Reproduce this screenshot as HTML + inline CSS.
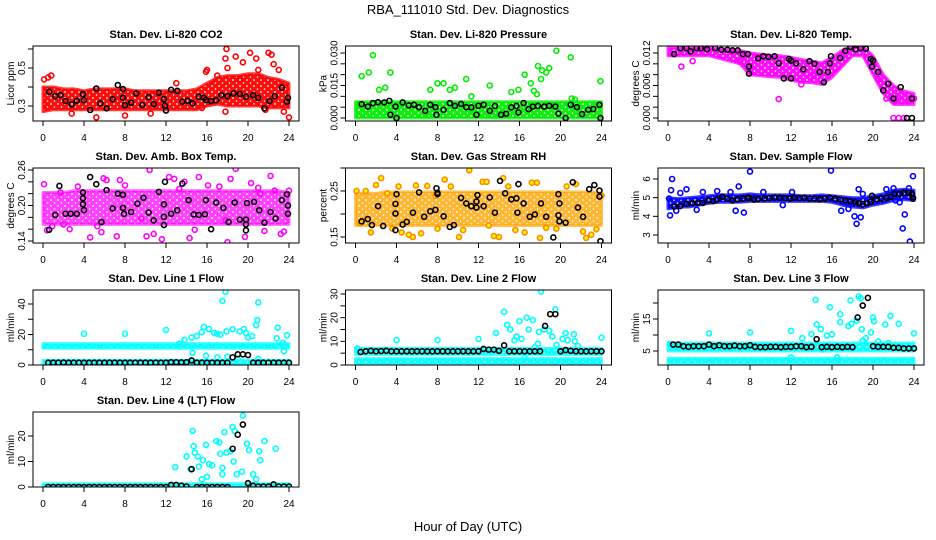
<!DOCTYPE html>
<html><head><meta charset="utf-8">
<style>
html,body{margin:0;padding:0;background:#fff;}
svg{display:block;font-family:"Liberation Sans",sans-serif;}
</style></head>
<body>
<svg id="chart" width="936" height="540" viewBox="0 0 936 540">
<text x="468" y="14" text-anchor="middle" font-size="13">RBA_111010  Std. Dev. Diagnostics</text>
<text x="468" y="531" text-anchor="middle" font-size="13">Hour of Day (UTC)</text>
</svg>
<script>
// ---------- shared x data ----------
const bandHours = [0,1,2,3,4,5,6,7,8,9,10,11,12,13,14,15,16,17,18,19,20,21,22,23,24];
const xTicks = [0,4,8,12,16,20,24];
const flowBlackX = [0.5,1,1.5,2,2.5,3,3.5,4,4.5,5,5.5,6,6.5,7,7.5,8,8.5,9,9.5,10,10.5,11,11.5,12,12.5,13,13.5,14,14.5,15,15.5,16,16.5,17,17.5,18,18.5,19,19.5,20,20.5,21,21.5,22,22.5,23,23.5,24];

// ---------- CO2 ----------
const co2BandLo = [0.27,0.28,0.28,0.28,0.28,0.28,0.28,0.28,0.28,0.28,0.28,0.28,0.28,0.28,0.28,0.28,0.30,0.31,0.30,0.30,0.30,0.30,0.29,0.29,0.29];
const co2BandHi = [0.40,0.40,0.39,0.39,0.38,0.39,0.39,0.39,0.39,0.38,0.38,0.38,0.38,0.38,0.38,0.39,0.42,0.45,0.46,0.46,0.47,0.47,0.45,0.44,0.42];
const co2OutX = [0.1,0.5,0.8,2.8,5.2,8,10.5,13,15.5,15.9,16,17,17.9,17.8,18.8,19.5,20.2,20.8,22,22.3,22.5,23,24,17.8,21.7,19.2,18,21,23.5];
const co2OutY = [0.44,0.45,0.46,0.26,0.24,0.25,0.26,0.42,0.29,0.48,0.49,0.46,0.60,0.55,0.56,0.53,0.58,0.55,0.58,0.57,0.52,0.49,0.24,0.27,0.28,0.44,0.50,0.49,0.27];
const co2BlkX = [0.6,1.2,1.7,2.2,2.8,3.3,3.9,4,4.6,5.2,5.6,6.2,6.8,7.3,7.8,7.8,8,8.6,9.1,9.7,10.3,10.8,11.3,11.8,11.9,12,12.5,13.1,13.6,14.1,14.6,15.2,15.7,15.9,16.4,16.9,17.4,18,18.6,19.2,19.8,20.5,21,21.6,22.1,22.6,23.3,23.8,23.9];
const co2BlkY = [0.375,0.352,0.357,0.326,0.309,0.328,0.363,0.331,0.279,0.392,0.314,0.288,0.335,0.41,0.343,0.389,0.305,0.317,0.366,0.305,0.347,0.31,0.37,0.335,0.302,0.276,0.385,0.38,0.323,0.328,0.314,0.349,0.343,0.331,0.326,0.331,0.357,0.352,0.366,0.363,0.349,0.357,0.343,0.288,0.326,0.352,0.397,0.323,0.343];

// ---------- Pressure ----------
const prsBandLo = [0,0,0,0,0,0,0,0,0,0,0,0,0,0,0,0,0,0,0,0,0,0,0,0,0];
const prsBandHi = [0.0075,0.0075,0.0075,0.0075,0.0075,0.0075,0.0075,0.0075,0.0075,0.0075,0.0075,0.0075,0.0075,0.0075,0.0075,0.0075,0.0075,0.0075,0.0075,0.0075,0.0075,0.0075,0.0075,0.0075,0.0075];
const prsOutX = [0.6,1.3,1.7,2.3,2.9,3.4,7.3,8,8.6,9.2,9.7,10.8,11.3,13.1,15.2,15.9,16.5,17.1,17.4,17.7,17.8,18.1,18.2,18.6,18.9,19.6,21,21.1,21.4,23.9];
const prsOutY = [0.0193,0.021,0.029,0.013,0.014,0.021,0.013,0.016,0.016,0.013,0.014,0.018,0.010,0.015,0.012,0.013,0.020,0.016,0.0125,0.011,0.024,0.018,0.022,0.021,0.023,0.031,0.028,0.009,0.0085,0.017];
const prsBlkX = [0.6,1.2,1.7,2.2,2.8,3.3,3.4,3.9,4,4.6,5.2,5.7,6.2,6.8,7.3,7.8,7.9,8.6,9.2,9.7,10.3,10.8,11.3,11.8,12,12.5,13.1,13.6,14.2,14.7,15.2,15.7,15.9,16.4,16.9,17.3,17.8,18.4,18.9,19.5,19.8,20.5,21,21.6,22.1,22.7,23.2,23.8,23.9];
const prsBlkY = [0.0064,0.0053,0.0069,0.0073,0.0072,0.0079,0.0015,0.0053,0,0.0072,0.0058,0.0061,0.005,0.0033,0.0061,0.005,0.0015,0.0038,0.0069,0.0056,0.0065,0.005,0.0049,0.0015,0.0056,0.0061,0.0033,0.0056,0.0015,0.002,0.0049,0.0056,0.0026,0.0069,0.0041,0.0053,0.0056,0.0053,0.0056,0.0053,0.002,0,0.0061,0.005,0.0018,0.0038,0.0041,0.0061,0];

// ---------- Li-820 Temp ----------
const tmpBandLo = [0.0115,0.0115,0.0115,0.0115,0.0115,0.0110,0.0105,0.0100,0.0080,0.0078,0.0076,0.0075,0.0070,0.0066,0.0065,0.0062,0.0075,0.0095,0.0115,0.0115,0.0080,0.0045,0.0025,0.0025,0.0025];
const tmpBandHi = [0.0130,0.0130,0.0130,0.0130,0.0130,0.0128,0.0126,0.0125,0.0120,0.0118,0.0116,0.0115,0.0112,0.0108,0.0105,0.0102,0.0112,0.0125,0.0132,0.0132,0.0115,0.0080,0.0060,0.0050,0.0045];
const tmpOutX = [1.3,10.8,22,22.5,23,23.5,24,21.3,22.2,0.5,2.4,7,13,14.2,20.5];
const tmpOutY = [0.0095,0.0035,0,0,0,0.0036,0.0036,0.0036,0.0036,0.0118,0.0105,0.0105,0.0062,0.0078,0.0072];
const tmpBlkX = [0.6,1.2,1.8,2.2,2.8,3.2,3.8,4.6,5.2,5.8,6.3,6.8,7.3,7.8,7.9,7.9,8.8,9.3,9.8,10.4,10.8,11.3,11.8,12,12,12.5,13.2,13.8,14.3,14.8,15.2,15.6,15.8,15.9,16.8,17.3,17.8,18.3,18.8,19.3,19.8,19.9,20,20.5,21,21.5,22,22.7,23.3,23.8,23.8];
const tmpBlkY = [0.0118,0.0129,0.0129,0.0123,0.0129,0.0129,0.0127,0.0129,0.0126,0.0126,0.0125,0.0125,0.0118,0.0118,0.0095,0.0082,0.0110,0.0114,0.0113,0.0114,0.0101,0.0073,0.0109,0.0106,0.0073,0.0101,0.0090,0.0105,0.0100,0.0085,0.0066,0.0085,0.0101,0.0114,0.0111,0.0124,0.0131,0.0127,0.0129,0.0128,0.0109,0.0095,0.0106,0.0085,0.0051,0.0063,0.0036,0.0057,0,0.0036,0];

// ---------- Amb Box Temp ----------
const ambBandLo = [0.168,0.168,0.168,0.168,0.168,0.168,0.168,0.168,0.168,0.168,0.168,0.168,0.168,0.168,0.168,0.168,0.168,0.168,0.168,0.168,0.168,0.168,0.168,0.168,0.168];
const ambBandHi = [0.222,0.222,0.222,0.225,0.225,0.225,0.225,0.225,0.225,0.225,0.225,0.225,0.225,0.225,0.225,0.225,0.225,0.225,0.225,0.225,0.225,0.225,0.225,0.225,0.222];
const ambOutX = [0.1,0.4,1.7,2.6,3.4,4.6,5.3,5.7,5.9,6.2,7.2,7.5,8,10.1,10.4,10.8,11.6,12.3,12.8,13.3,14.3,14.8,15.2,16.1,17.2,18,18.3,18.8,19.7,20.3,21.2,21.6,22.2,22.6,23.2,23.5,24,0.9,2,9.6,13.8,17.8,21];
const ambOutY = [0.236,0.158,0.222,0.16,0.232,0.146,0.165,0.155,0.246,0.243,0.148,0.243,0.234,0.148,0.26,0.152,0.143,0.248,0.245,0.228,0.145,0.159,0.248,0.234,0.232,0.138,0.245,0.262,0.147,0.238,0.22,0.157,0.25,0.225,0.152,0.156,0.225,0.165,0.168,0.178,0.24,0.175,0.23];
const ambBlkX = [0.6,1.2,1.6,2.2,2.7,3.3,3.9,3.9,3.9,4,4.6,5.2,5.7,6.2,6.8,7.3,7.8,7.8,7.9,8.6,9.2,9.8,10.3,10.8,11.3,11.8,11.8,11.8,11.9,12.5,13.1,13.6,14.2,14.7,15.2,15.8,15.9,16.4,16.9,17.6,18.1,18.7,19.2,19.8,19.8,19.8,19.9,20.6,21.1,21.6,22.2,22.7,23.3,23.8,23.9,23.9];
const ambBlkY = [0.159,0.184,0.233,0.186,0.186,0.186,0.222,0.212,0.202,0.192,0.248,0.236,0.172,0.226,0.195,0.22,0.218,0.196,0.186,0.189,0.203,0.213,0.188,0.175,0.223,0.202,0.181,0.167,0.24,0.186,0.192,0.237,0.209,0.185,0.184,0.185,0.209,0.16,0.205,0.196,0.172,0.205,0.176,0.176,0.168,0.158,0.204,0.206,0.192,0.171,0.189,0.178,0.209,0.219,0.2,0.186];

// ---------- Gas Stream RH ----------
const rhBandLo = [0.175,0.175,0.175,0.175,0.175,0.175,0.175,0.175,0.175,0.175,0.175,0.175,0.175,0.175,0.175,0.175,0.175,0.175,0.175,0.175,0.175,0.175,0.175,0.175,0.175];
const rhBandHi = [0.245,0.245,0.245,0.248,0.248,0.248,0.248,0.248,0.248,0.248,0.248,0.248,0.248,0.248,0.248,0.248,0.248,0.248,0.248,0.248,0.248,0.248,0.248,0.248,0.245];
const rhOutX = [0.1,0.5,1,1.5,2,2.5,3.1,3.6,4.2,4.5,5.2,5.6,5.9,6.4,7,7.8,8,8.7,9.3,10.1,10.5,11.1,12.4,12.8,13.5,14,14.4,14.9,15.6,16.5,17.2,18,18.6,19.6,20.6,21.5,22.2,22.5,23,23.5,24,17.7,13];
const rhOutY = [0.25,0.18,0.25,0.16,0.263,0.278,0.245,0.168,0.26,0.16,0.155,0.15,0.262,0.158,0.261,0.24,0.168,0.275,0.26,0.15,0.165,0.295,0.27,0.27,0.152,0.15,0.278,0.26,0.165,0.16,0.268,0.148,0.17,0.168,0.26,0.265,0.162,0.148,0.155,0.167,0.24,0.268,0.175];
const rhBlkX = [0.6,1.2,1.6,2.2,2.7,3.9,3.9,3.9,4,4.6,5,5.6,6.2,6.7,7.3,7.8,7.9,8,8,8.6,9.2,9.6,10.3,10.8,11.3,11.8,11.8,11.9,12.5,13.1,13.6,14.1,14.6,15.2,15.7,15.8,15.9,16.4,17,17.5,18.1,18.6,19.3,19.8,19.8,19.9,19.9,20.5,21.2,21.7,22.2,22.8,23.3,23.8,23.8,23.9];
const rhBlkY = [0.184,0.189,0.176,0.217,0.174,0.165,0.201,0.222,0.243,0.177,0.183,0.203,0.247,0.194,0.206,0.209,0.256,0.246,0.243,0.195,0.172,0.176,0.235,0.223,0.217,0.227,0.214,0.241,0.217,0.236,0.203,0.272,0.245,0.232,0.234,0.203,0.265,0.223,0.194,0.199,0.223,0.194,0.149,0.243,0.197,0.223,0.184,0.181,0.269,0.214,0.194,0.254,0.263,0.251,0.238,0.141];

// ---------- Sample Flow ----------
const sfBandLo = [4.4,4.5,4.5,4.6,4.7,4.75,4.75,4.75,4.8,4.8,4.8,4.8,4.8,4.8,4.8,4.8,4.75,4.6,4.5,4.45,4.6,4.7,4.85,4.9,4.85];
const sfBandHi = [5.0,4.95,5.0,5.05,5.1,5.15,5.15,5.15,5.2,5.15,5.15,5.15,5.15,5.1,5.1,5.15,5.1,5.05,5.0,5.0,5.1,5.2,5.4,5.45,5.4];
const sfOutX = [0.1,0.2,0.3,0.4,0.8,1.2,1.8,2.8,3.4,4.8,6.1,6.6,6.9,7.4,8,9.3,11.2,12.1,15.9,16.9,17.6,18.2,18.4,18.6,18.8,19,22,22.2,22.6,22.9,23.1,23.5,23.6,23.9,21.3];
const sfOutY = [4.95,4.05,5.4,6.0,4.3,5.25,5.45,4.35,5.3,5.35,5.3,4.3,5.6,4.2,6.4,5.3,4.6,5.3,6.45,4.3,4.4,4.0,3.6,5.45,3.95,5.2,5.5,4.85,4.75,3.35,4.1,5.5,2.65,6.15,5.45];
const sfBlkX = [0.6,1.2,1.8,2.4,2.9,3.4,3.9,4.4,4.8,5.3,5.8,6.3,6.8,7.3,7.8,7.9,8.4,8.8,9.4,9.9,10.4,10.9,11.4,11.9,12.3,12.8,13.3,13.8,14.3,14.8,15.3,15.8,16.3,16.8,17.3,17.8,18.3,18.6,19,19.4,19.8,19.9,20.3,20.8,21.3,21.7,22.1,22.6,23,23.5,23.8,23.9,23.9];
const sfBlkY = [4.52,4.55,4.67,4.7,4.72,4.72,4.85,4.82,4.9,5.05,4.95,4.85,4.92,4.95,5.0,4.98,4.9,4.93,4.95,4.97,5.0,5.0,4.98,4.95,5.0,4.98,5.0,4.95,4.95,4.92,4.95,5.0,4.95,4.9,4.85,4.8,4.75,4.7,4.65,4.7,4.78,5.1,4.9,4.95,5.0,5.05,5.2,5.2,5.25,5.25,5.2,5.0,4.95];

// ---------- Line 1 Flow ----------
const l1BandALo = [11,11,11,11,11,11,11,11,11,11,11,11,11,11,11,11,11,11,11,11,11,11,11,11,11];
const l1BandAHi = [14,14,14,14,14,14,14,14,14,14,14,14,14,14,14,14,14,14,14,14,14,14,14,14,14];
const l1BandBLo = [0.5,0.5,0.5,0.5,0.5,0.5,0.5,0.5,0.5,0.5,0.5,0.5,0.5,0.5,0.5,0.5,0.5,0.5,0.5,0.5,0.5,0.5,0.5,0.5,0.5];
const l1BandBHi = [3,3,3,3,3,3,3,3,3,3,3,3,3,3,3,3,3,3,3,3,3,3,3,3,3];
const l1OutX = [4,8,12,13.3,13.8,14.5,14.6,15,15.5,15.7,16.2,16.7,17,17.3,17.5,17.8,17.9,18.5,19.2,19.6,19.8,20,20.4,20.8,20.9,21,22.8,22.9,23.4,23.5,23.8,15.9,17,18,19,21];
const l1OutY = [20.5,20.5,23,14,16.5,18,8,19,21.5,25,23.5,21,20.5,20,42,48,22,23.5,22,23.5,21,18,19,26,29.5,41,17.5,24.5,14.5,9,19.5,6,5,5.5,4,4];
const l1BlkY = [1.5,1.5,1.5,1.6,1.5,1.5,1.5,1.5,1.5,1.5,1.5,1.5,1.5,1.5,1.5,1.5,1.5,1.5,1.5,1.5,1.5,1.5,1.5,1.5,1.8,1.8,1.7,1.8,3.0,1.5,1.5,1.5,1.5,1.5,1.5,1.5,5.0,7.0,7.0,6.5,1.5,1.5,1.5,1.5,1.5,1.5,1.5,1.5];

// ---------- Line 2 Flow ----------
const l2BandALo = [4.5,4.5,4.5,4.5,4.5,4.5,4.5,4.5,4.5,4.5,4.5,4.5,4.5,4.5,4.5,4.5,4.5,4.5,4.5,4.5,4.5,4.5,4.5,4.5,4.5];
const l2BandAHi = [7,7,7,7,7,7,7,7,7,7,7,7,7,7,7,7,7,7,7,7,7,7,7,7,7];
const l2BandBLo = [0.5,0.5,0.5,0.5,0.5,0.5,0.5,0.5,0.5,0.5,0.5,0.5,0.5,0.5,0.5,0.5,0.5,0.5,0.5,0.5,0.5,0.5,0.5,0.5,0.5];
const l2BandBHi = [2.7,2.7,2.7,2.7,2.7,2.7,2.7,2.7,2.7,2.7,2.7,2.7,2.7,2.7,2.7,2.7,2.7,2.7,2.7,2.7,2.7,2.7,2.7,2.7,2.7];
const l2OutX = [0.2,4,8,12,13.7,14.5,14.8,15.1,15.5,15.7,16,16.2,16.7,16.9,17.3,17.5,17.9,18.1,18.4,18.9,19.2,19.5,19.6,20.2,20.5,20.7,21.3,21.4,21.7,24,17.8,16.5];
const l2OutY = [7,10.5,10.5,11,13.5,22.5,17,15,10.5,12,18.5,11,20,15,19,7.5,14,31,15,14.5,12,23.5,8.5,11,13.5,10.5,13,10,8,11.5,9,3];
const l2BlkY = [5.5,5.8,6.0,5.8,5.9,6.0,5.8,5.8,5.8,5.8,5.8,5.8,5.8,5.8,5.8,5.8,5.8,5.8,5.8,5.8,5.8,5.8,5.8,5.8,6.8,6.5,6.5,6.0,8.3,5.8,5.8,5.8,5.8,5.8,5.8,5.8,16.5,21.5,21.5,5.8,6.3,6.0,5.8,5.8,5.8,5.8,5.8,5.8];

// ---------- Line 3 Flow ----------
const l3BandALo = [5,5,5,5,5,5,5,5,5,5,5,5,5,5,5,5,5,5,5,5,5,5,5,5,5];
const l3BandAHi = [7.5,7.5,7.5,7.5,7.5,7.5,7.5,7.5,7.5,7.5,7.5,7.5,7.5,7.5,7.5,7.5,7.5,7.5,7.5,7.5,7.5,7.5,7.5,7.5,7.5];
const l3BandBLo = [1.2,1.2,1.2,1.2,1.2,1.2,1.2,1.2,1.2,1.2,1.2,1.2,1.2,1.2,1.2,1.2,1.2,1.2,1.2,1.2,1.2,1.2,1.2,1.2,1.2];
const l3BandBHi = [2.7,2.7,2.7,2.7,2.7,2.7,2.7,2.7,2.7,2.7,2.7,2.7,2.7,2.7,2.7,2.7,2.7,2.7,2.7,2.7,2.7,2.7,2.7,2.7,2.7];
const l3OutX = [0.2,4,8,12,13.1,14,14.4,14.5,14.9,15.5,15.8,16,16.8,16.8,17.6,17.8,17.9,18.4,18.6,18.8,18.9,19,19.3,19.8,20,20.1,20.5,21.2,21.5,21.7,22.5,24,15.1,16.5,12];
const l3OutY = [7.2,10.5,10.8,11.3,9,10.3,21,13.3,11.8,9.8,18.7,10.2,16.5,14,12.8,20.8,13.5,14.5,22,21.5,11.8,8.2,9,10.8,15.5,14.3,8,13.3,7.5,16,13.5,10.5,5.5,3,3];
const l3BlkY = [7.0,7.0,6.5,6.3,6.5,6.5,6.5,7.0,6.5,6.8,6.5,6.5,6.7,6.5,6.5,6.8,6.3,6.2,6.2,6.3,6.3,6.2,6.3,6.3,6.5,6.5,6.2,6.3,8.7,6.2,6.3,6.2,6.3,6.2,6.3,6.2,15.5,19.2,21.6,6.5,6.3,6.3,6.3,6.0,6.0,5.8,5.8,5.8];

// ---------- Line 4 (LT) Flow ----------
const l4BandLo = [0,0,0,0,0,0,0,0,0,0,0,0,0,0,0,0,0,0,0,0,0,0,0,0,0];
const l4BandHi = [1.3,1.3,1.3,1.3,1.3,1.3,1.3,1.3,1.3,1.3,1.3,1.3,1.3,1.3,1.3,1.3,1.3,1.3,1.3,1.3,1.3,1.3,1.3,1.3,1.3];
const l4OutX = [12.9,14,14.4,14.6,14.7,14.8,15.1,15.2,15.6,15.9,16.2,16.5,16.9,17.2,17.3,17.5,17.7,17.9,18.3,18.5,18.6,18.7,18.9,19.4,19.5,19.9,20.1,20.5,20.8,21.1,21.2,21.6,22.7,15.5,16,17.5];
const l4OutY = [7.8,12,7,22,16,13.5,12,8,10.5,16.5,9,8.5,18,17.5,13,7.5,21.5,13.5,14,23.5,10,22,5,6,28,17,14.5,5,3,14,10.5,18,15,3,4,5];
const l4BlkY = [0,0,0,0,0,0,0,0,0,0,0,0,0,0,0,0,0,0,0,0,0,0,0,0,0.8,0.8,0.5,0.2,7.0,0,0,0,0,0,0,0,15,20.5,24.5,1.5,0.5,0.2,0.2,0.2,1.0,0.2,0.2,0.2];

// ---------- panel config (axis calibration, no data) ----------
const panels = [
 {id:'co2',title:'Stan. Dev. Li-820 CO2',ylab:'Licor ppm',col:0,row:0,cal:[0.3,106,0.5,68],ticks:[0.3,0.4,0.5,0.6],labels:['0.3','','0.5',''],color:'#ff0000',op:0.95,bands:[[co2BandLo,co2BandHi]],ox:co2OutX,oy:co2OutY,bx:co2BlkX,by:co2BlkY},
 {id:'pressure',title:'Stan. Dev. Li-820 Pressure',ylab:'kPa',col:1,row:0,cal:[0,118,0.03,53],ticks:[0,0.005,0.01,0.015,0.02,0.025,0.03],labels:['0.000','','','0.015','','','0.030'],color:'#00ee00',op:0.95,bands:[[prsBandLo,prsBandHi]],ox:prsOutX,oy:prsOutY,bx:prsBlkX,by:prsBlkY},
 {id:'li820-temp',title:'Stan. Dev. Li-820 Temp.',ylab:'degrees C',col:2,row:0,cal:[0,118,0.012,53],ticks:[0,0.002,0.004,0.006,0.008,0.01,0.012],labels:['0.000','','','0.006','','','0.012'],color:'#ff00ff',op:0.95,bands:[[tmpBandLo,tmpBandHi]],ox:tmpOutX,oy:tmpOutY,bx:tmpBlkX,by:tmpBlkY},
 {id:'amb-box-temp',title:'Stan. Dev. Amb. Box Temp.',ylab:'degrees C',col:0,row:1,cal:[0.14,241,0.26,170],ticks:[0.14,0.16,0.18,0.2,0.22,0.24,0.26],labels:['0.14','','','0.20','','','0.26'],color:'#ff00ff',op:0.75,bands:[[ambBandLo,ambBandHi]],ox:ambOutX,oy:ambOutY,bx:ambBlkX,by:ambBlkY},
 {id:'gas-stream-rh',title:'Stan. Dev. Gas Stream RH',ylab:'percent',col:1,row:1,cal:[0.15,237,0.25,191],ticks:[0.15,0.2,0.25,0.3],labels:['0.15','','0.25',''],color:'#ffa500',op:0.8,bands:[[rhBandLo,rhBandHi]],ox:rhOutX,oy:rhOutY,bx:rhBlkX,by:rhBlkY},
 {id:'sample-flow',title:'Stan. Dev. Sample Flow',ylab:'ml/min',col:2,row:1,cal:[3,235,6,179],ticks:[3,4,5,6],labels:['3','4','5','6'],color:'#0000ff',op:0.95,bands:[[sfBandLo,sfBandHi]],ox:sfOutX,oy:sfOutY,bx:sfBlkX,by:sfBlkY},
 {id:'line1-flow',title:'Stan. Dev. Line 1 Flow',ylab:'ml/min',col:0,row:2,cal:[0,365,40,304],ticks:[0,10,20,30,40],labels:['0','','20','','40'],color:'#00ffff',op:0.95,bands:[[l1BandALo,l1BandAHi],[l1BandBLo,l1BandBHi]],ox:l1OutX,oy:l1OutY,bx:flowBlackX,by:l1BlkY},
 {id:'line2-flow',title:'Stan. Dev. Line 2 Flow',ylab:'ml/min',col:1,row:2,cal:[0,365,30,294],ticks:[0,5,10,15,20,25,30],labels:['0','','10','','20','','30'],color:'#00ffff',op:0.95,bands:[[l2BandALo,l2BandAHi],[l2BandBLo,l2BandBHi]],ox:l2OutX,oy:l2OutY,bx:flowBlackX,by:l2BlkY},
 {id:'line3-flow',title:'Stan. Dev. Line 3 Flow',ylab:'ml/min',col:2,row:2,cal:[5,351,15,319],ticks:[5,10,15,20],labels:['5','','15',''],color:'#00ffff',op:0.95,bands:[[l3BandALo,l3BandAHi],[l3BandBLo,l3BandBHi]],ox:l3OutX,oy:l3OutY,bx:flowBlackX,by:l3BlkY},
 {id:'line4-flow',title:'Stan. Dev. Line 4 (LT) Flow',ylab:'ml/min',col:0,row:3,cal:[0,487,20,436],ticks:[0,10,20],labels:['0','10','20'],color:'#00ffff',op:0.95,bands:[[l4BandLo,l4BandHi]],ox:l4OutX,oy:l4OutY,bx:flowBlackX,by:l4BlkY}
];

const NS='http://www.w3.org/2000/svg';
const svg=document.getElementById('chart');
function mk(tag,attrs,parent){const e=document.createElementNS(NS,tag);for(const k in attrs)e.setAttribute(k,attrs[k]);(parent||svg).appendChild(e);return e;}
const colLeft=[33,345.5,658], rowTop=[46,168,290,412], PW=266, PH=75;
const defs=mk('defs',{});

panels.forEach(p=>{
  const L=colLeft[p.col], T=rowTop[p.row], R=L+PW, B=T+PH;
  const xs=h=>L+10+h*(246/24);
  const [v1,p1,v2,p2]=p.cal;
  const ys=v=>p1+(v-v1)*(p2-p1)/(v2-v1);
  // texture pattern for dense point clouds
  const pat=mk('pattern',{id:'pat-'+p.id,width:7,height:6,patternUnits:'userSpaceOnUse'},defs);
  mk('rect',{x:0,y:0,width:7,height:6,fill:p.color,'fill-opacity':p.op},pat);
  mk('circle',{cx:2,cy:2,r:0.9,fill:'#fff'},pat);
  mk('circle',{cx:5.5,cy:5,r:0.8,fill:'#fff'},pat);
  const g=mk('g',{});
  
  
  const cp=mk('clipPath',{id:'clip-'+p.id},g);
  mk('rect',{x:L,y:T,width:PW,height:PH},cp);
  const t=mk('text',{x:L+PW/2,y:T-8,'text-anchor':'middle','font-size':'11','font-weight':'bold'},g);
  t.textContent=p.title;
  
  
  const yl=mk('text',{x:0,y:0,'text-anchor':'middle','font-size':'10',transform:`translate(${L-19},${T+PH/2}) rotate(-90)`},g);
  yl.textContent=p.ylab;
  
  
  const plot=mk('g',{'clip-path':`url(#clip-${p.id})`},g);
  
  
  p.bands.forEach((bd,bi)=>{
    const lo=bd[0],hi=bd[1];
    let d='M'+bandHours.map((h,i)=>xs(h).toFixed(1)+','+ys(hi[i]).toFixed(1)).join('L');
    d+='L'+bandHours.slice().reverse().map((h,j)=>{const i=bandHours.length-1-j;return xs(h).toFixed(1)+','+ys(lo[i]).toFixed(1);}).join('L')+'Z';
    const band=mk('path',{d:d,fill:`url(#pat-${p.id})`,stroke:p.color,'stroke-opacity':p.op*0.8,'stroke-width':'3','stroke-linejoin':'round'},plot);
    
    
  });
  p.ox.forEach((x,i)=>{
    const c=mk('circle',{cx:xs(x),cy:ys(p.oy[i]),r:2.5,fill:p.id==='gas-stream-rh'?'#ffff00':'none',stroke:p.id==='gas-stream-rh'?'#ff8800':p.color,'stroke-width':'1.6'},plot);
    
    
  });
  p.bx.forEach((x,i)=>{
    const c=mk('circle',{cx:xs(x),cy:ys(p.by[i]),r:2.5,fill:'none',stroke:'#000','stroke-width':'1.6'},plot);
    
    
  });
  const box=mk('rect',{x:L,y:T,width:PW,height:PH,fill:'none',stroke:'#000','stroke-width':'1'},g);
  
  
  const xa=mk('g',{},g);
  
  
  mk('line',{x1:xs(0),x2:xs(24),y1:B,y2:B,stroke:'#000'},xa);
  xTicks.forEach(h=>{
    mk('line',{x1:xs(h),x2:xs(h),y1:B,y2:B+5,stroke:'#000'},xa);
    const tl=mk('text',{x:xs(h),y:B+20,'text-anchor':'middle','font-size':'10'},xa);
    tl.textContent=String(h);
  });
  const ya=mk('g',{},g);
  
  
  const tv=p.ticks;
  mk('line',{x1:L,x2:L,y1:ys(tv[0]),y2:ys(tv[tv.length-1]),stroke:'#000'},ya);
  tv.forEach((v,i)=>{
    mk('line',{x1:L-5,x2:L,y1:ys(v),y2:ys(v),stroke:'#000'},ya);
    if(p.labels[i]){
      const tl=mk('text',{x:0,y:0,'text-anchor':'middle','font-size':'10',transform:`translate(${L-8},${ys(v)}) rotate(-90)`},ya);
      tl.textContent=p.labels[i];
    }
  });
});
</script>
</body></html>
